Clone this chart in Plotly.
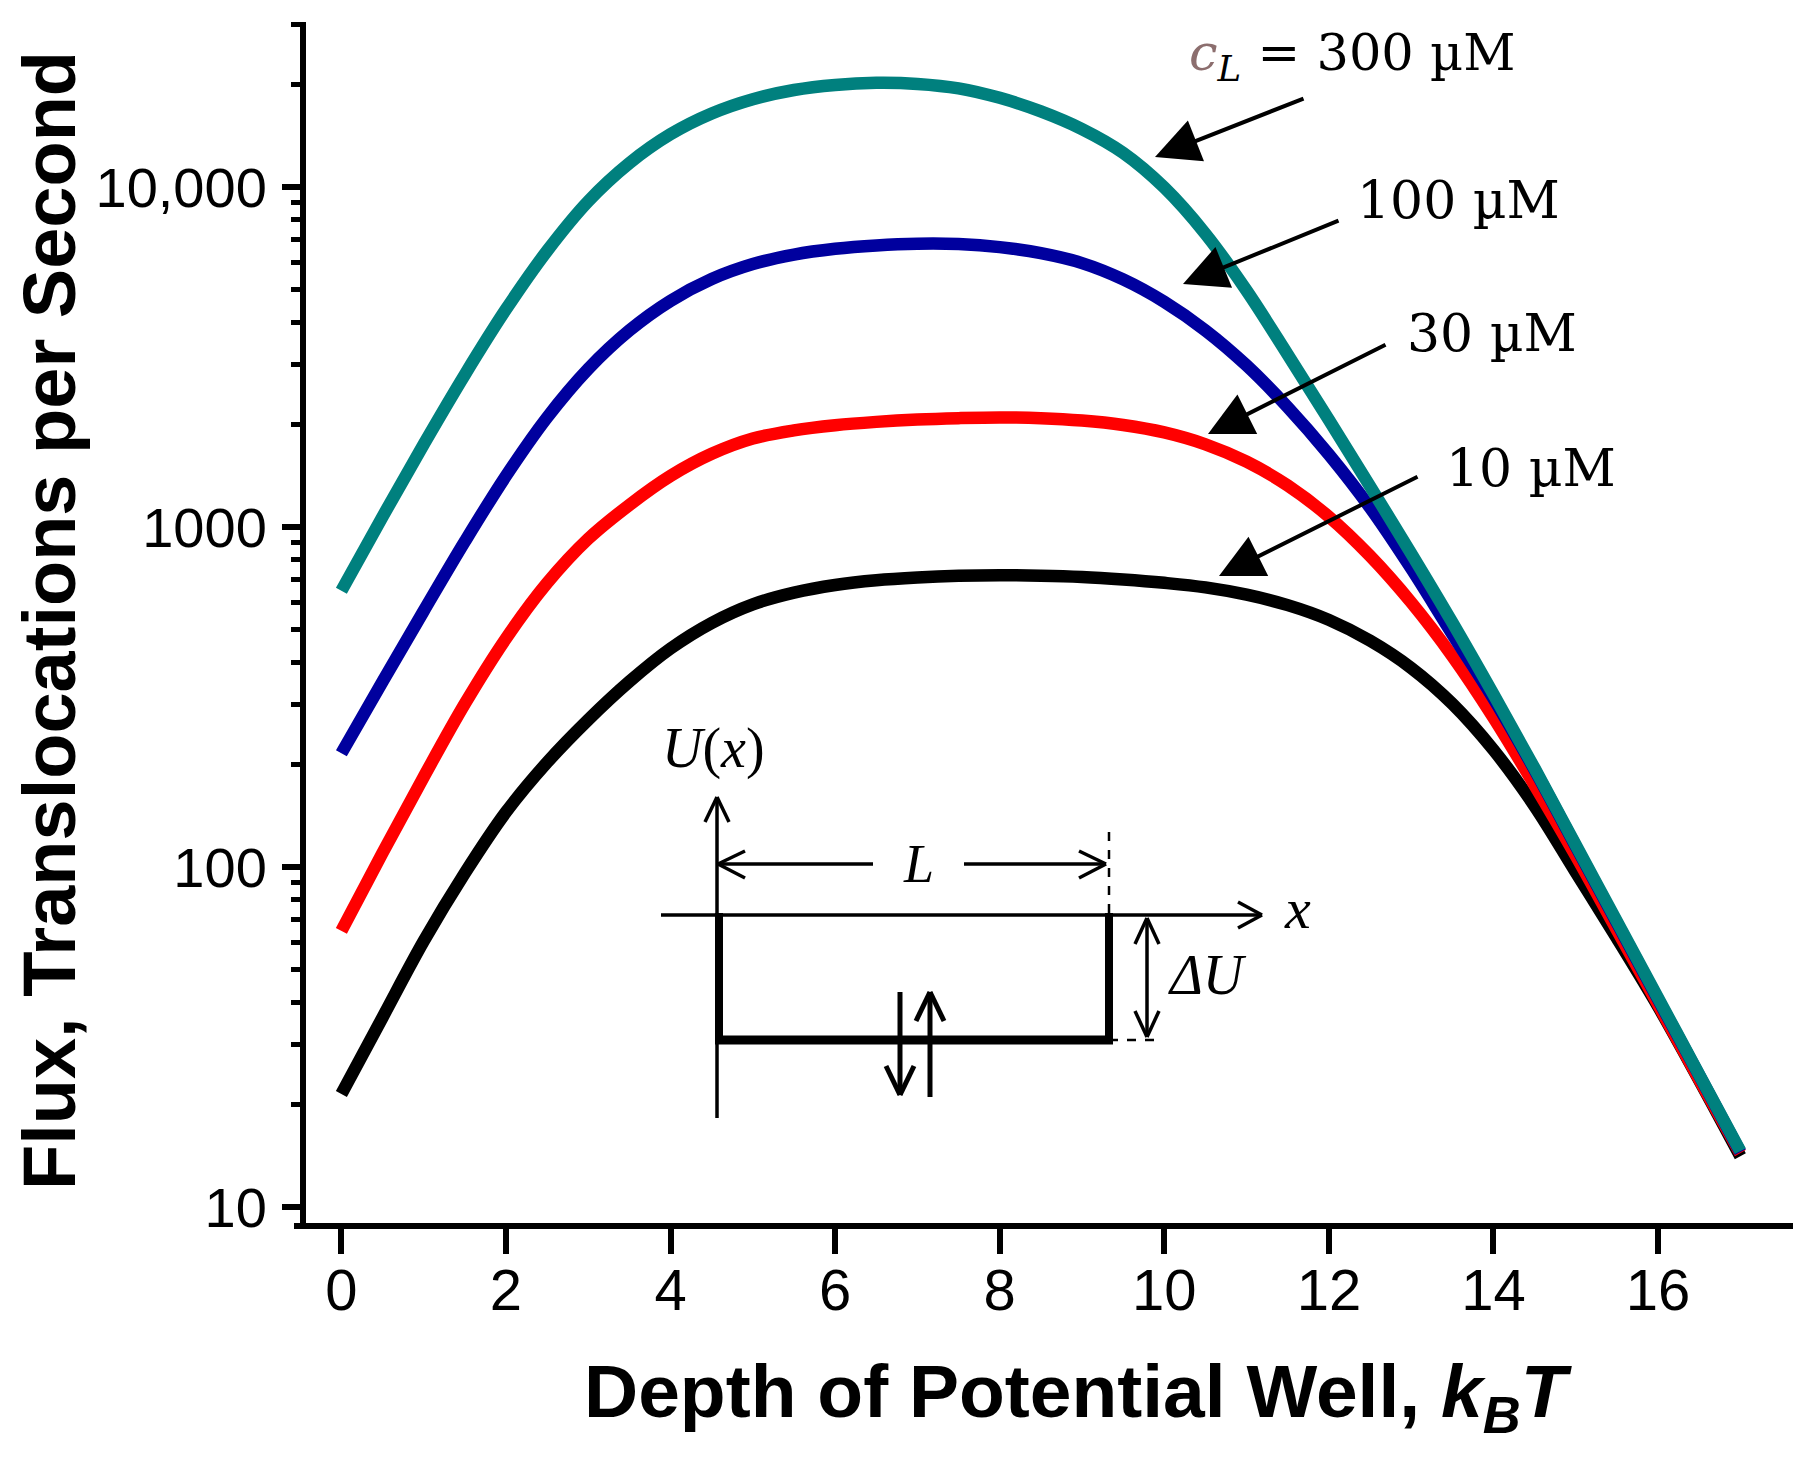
import plotly.graph_objects as go

# ---------------- data ----------------
depth_kT = [0, 0.5, 1, 1.5, 2, 2.5, 3, 3.5, 4, 4.5, 5, 5.5, 6, 6.5, 7, 7.5, 8, 8.5,
            9, 9.5, 10, 10.5, 11, 11.5, 12, 12.5, 13, 13.5, 14, 14.5, 15, 15.5, 16, 16.5, 17]

flux_10uM = [21.5, 36.1, 60.5, 95.9, 145, 203, 271, 351, 439, 522, 592, 641, 675, 697, 710, 718,
             721, 719, 713, 701, 685, 664, 632, 589, 533, 463, 385, 302, 221, 151, 96.6, 61.7,
             38.9, 23.6, 14.1]
flux_30uM = [64.9, 110, 184, 302, 470, 684, 923, 1161, 1413, 1641, 1820, 1923, 1991, 2037, 2070,
             2089, 2099, 2089, 2056, 1995, 1897, 1750, 1556, 1324, 1072, 822, 600, 417, 275, 174,
             108, 65.3, 39.4, 23.7, 14.4]
flux_100uM = [216, 351, 566, 906, 1413, 2099, 2917, 3784, 4624, 5358, 5929, 6324, 6577, 6730,
              6808, 6792, 6653, 6383, 5970, 5346, 4592, 3784, 2985, 2249, 1633, 1140, 755, 484,
              313, 193, 115, 68.5, 40.8, 24.4, 14.5]
flux_300uM = [649, 1072, 1750, 2805, 4365, 6486, 9078, 11750, 14290, 16440, 18110, 19280, 19950,
              20230, 20090, 19500, 18280, 16670, 14790, 12590, 9954, 7278, 4955, 3214, 2065, 1318,
              836, 524, 322, 195, 116, 69.2, 41.2, 24.5, 14.6]

series_names = ["10 µM", "30 µM", "100 µM", "300 µM"]
series_colors = ["#000000", "#FF0000", "#00009E", "#00807E"]

x_ticks = [0, 2, 4, 6, 8, 10, 12, 14, 16]
y_ticks = [10, 100, 1000, 10000]
y_ticktext = ["10", "100", "1000", "10,000"]
y_minor = [20, 30, 40, 50, 60, 70, 80, 90, 200, 300, 400, 500, 600, 700, 800, 900,
           2000, 3000, 4000, 5000, 6000, 7000, 8000, 9000, 20000, 30000]

# ---------------- layout geometry (page pixels) ----------------
W, H = 1811, 1457
OFF = 8                      # default page body margin
L, R, T, B = 306, 1793, 22, 1223
TICKFONT = "Liberation Sans"


def px(x):
    return (x - L) / (R - L)


def py(y):
    return (B - y) / (B - T)


fig = go.Figure()
for ys, name, col in zip([flux_10uM, flux_30uM, flux_100uM, flux_300uM], series_names, series_colors):
    fig.add_trace(go.Scatter(x=depth_kT, y=ys, mode="lines", name=name,
                             line=dict(color=col, width=12.5, shape="spline", smoothing=1.0),
                             showlegend=False, hoverinfo="skip"))

shapes = []


def seg(x0, y0, x1, y1, w=3.5, dash="solid"):
    shapes.append(dict(type="line", xref="paper", yref="paper",
                       x0=px(x0), y0=py(y0), x1=px(x1), y1=py(y1),
                       line=dict(color="black", width=w, dash=dash)))


def vhead(tx, ty, ax1, ay1, ax2, ay2, w=3.5):
    seg(ax1, ay1, tx, ty, w)
    seg(ax2, ay2, tx, ty, w)


# main x-axis line slight extension to the left of the y axis
seg(294, B + 3, L, B + 3, 6)

# ---- inset diagram ----
seg(717, 1118, 717, 797, 3.5)
vhead(717, 797, 705, 822, 729, 822)
seg(661, 915, 1262, 915, 3.5)
vhead(1262, 915, 1238, 902, 1238, 928)
seg(718, 864, 873, 864, 3.5)
seg(964, 864, 1106, 864, 3.5)
vhead(718, 864, 745, 851, 745, 878)
vhead(1106, 864, 1079, 851, 1079, 878)
seg(1109, 832, 1109, 913, 2.5, "dash")
seg(1109, 1040, 1163, 1040, 2.5, "dash")
seg(719, 913, 719, 1044, 8)
seg(715, 1040, 1113, 1040, 9)
seg(1109, 913, 1109, 1044, 8)
seg(1147, 918, 1147, 1037, 3.5)
vhead(1147, 918, 1135, 944, 1159, 944)
vhead(1147, 1037, 1135, 1011, 1159, 1011)
seg(900, 992, 900, 1095, 5)
vhead(900, 1095, 886, 1066, 914, 1066, 5)
seg(930, 1097, 930, 992, 5)
vhead(930, 992, 916, 1021, 944, 1021, 5)

annotations = []


def label(x, y, text, size, family="Liberation Serif", color="black", angle=0, xanchor="center"):
    annotations.append(dict(x=px(x), y=py(y), xref="paper", yref="paper", text=text,
                            showarrow=False, xanchor=xanchor, yanchor="middle", textangle=angle,
                            font=dict(family=family, size=size, color=color)))


label(713, 748, "<i>U</i>(<i>x</i>)", 56)
label(918, 864, "<i>L</i>", 54)
label(1297, 908, "<i>x</i>", 58)
label(1207, 975, "<i>ΔU</i>", 56)

serif = "DejaVu Serif"
label(1352, 56, "<span style='color:#8C6E6E'><i>c</i></span><sub><i>L</i></sub> = 300 µM", 51, serif)
label(1458, 200, "100 µM", 52, serif)
label(1492, 333, "30 µM", 52, serif)
label(1531, 468, "10 µM", 52, serif)

for (tipx, tipy, tailx, taily) in [(1155, 157, 1305, 98), (1183, 284, 1340, 220),
                                   (1208, 434, 1387, 344), (1219, 576, 1419, 476)]:
    annotations.append(dict(x=px(tipx), y=py(tipy), xref="paper", yref="paper", text="",
                            showarrow=True, ax=tailx - tipx, ay=taily - tipy,
                            arrowhead=2, arrowsize=2.2, arrowwidth=4, arrowcolor="black",
                            standoff=0))

label(1078, 1396, "<b>Depth of Potential Well, <i>k</i><sub><i>B</i></sub><i>T</i></b>", 75,
      "Liberation Sans")
label(49, 621, "<b>Flux, Translocations per Second</b>", 74, "Liberation Sans", angle=-90)

fig.update_layout(
    width=W - 2 * OFF, height=H - 2 * OFF,
    margin=dict(l=L - OFF, r=(W - 2 * OFF) - (R - OFF), t=T - OFF, b=(H - 2 * OFF) - (B - OFF), pad=0),
    paper_bgcolor="white", plot_bgcolor="white",
    shapes=shapes, annotations=annotations,
    font=dict(family="Liberation Sans", color="black"),
)
fig.update_xaxes(range=[-0.43, 17.64], tickmode="array", tickvals=x_ticks,
                 showline=True, linecolor="black", linewidth=6, showgrid=False, zeroline=False,
                 ticks="outside", ticklen=25, tickwidth=6, tickcolor="black",
                 tickfont=dict(family=TICKFONT, size=58, color="black"),
                 ticklabelstandoff=-14)
fig.update_yaxes(type="log", range=[0.953, 4.485], tickmode="array", tickvals=y_ticks,
                 ticktext=y_ticktext,
                 showline=True, linecolor="black", linewidth=6, showgrid=False, zeroline=False,
                 ticks="outside", ticklen=18, tickwidth=6, tickcolor="black",
                 tickfont=dict(family=TICKFONT, size=56, color="black"),
                 ticklabelstandoff=4,
                 minor=dict(tickmode="array", tickvals=y_minor, ticks="outside", ticklen=9,
                            tickwidth=5, tickcolor="black", showgrid=False))

fig.write_html("out.html")
